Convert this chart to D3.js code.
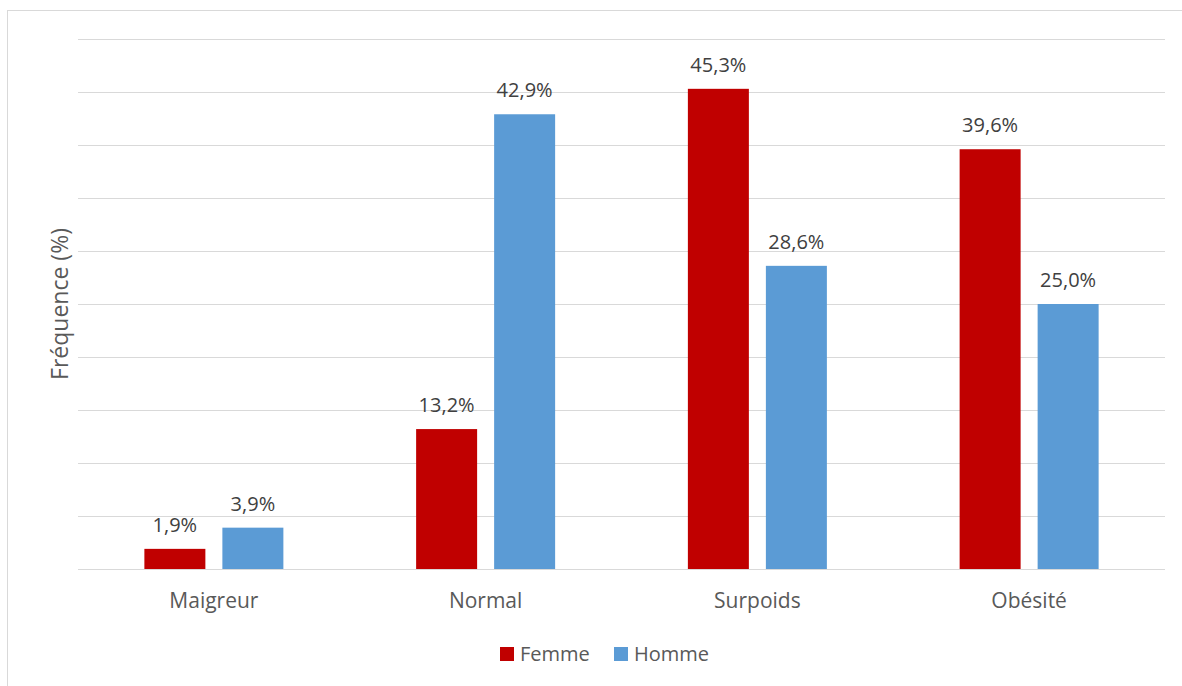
<!DOCTYPE html>
<html>
<head>
<meta charset="utf-8">
<script src="https://cdn.jsdelivr.net/npm/d3@7"></script>
<style>
  html, body { margin: 0; padding: 0; background: #fff; }
  svg { display: block; }
  text { font-family: "Open Sans", "Noto Sans", sans-serif; }
</style>
</head>
<body>
<svg id="chart" width="1182" height="686"></svg>
<script>
// Répartition de l'IMC par sexe
const categories = ["Maigreur", "Normal", "Surpoids", "Obésité"];
const seriesNames = ["Femme", "Homme"];
const femme = [1.9, 13.2, 45.3, 39.6];
const homme = [3.9, 42.9, 28.6, 25.0];
const yTicks = [0, 5, 10, 15, 20, 25, 30, 35, 40, 45, 50];
const colors = ["#C00000", "#5B9BD5"];

const svg = d3.select("#chart");
const fmt = v => v.toFixed(1).replace(".", ",") + "%";

// chart frame
svg.append("rect")
  .attr("x", 7.5).attr("y", 10.5)
  .attr("width", 1190).attr("height", 690)
  .attr("fill", "none").attr("stroke", "#d9d9d9").attr("stroke-width", 1);

const plot = { left: 78, right: 1165, top: 39, bottom: 569 };

const y = d3.scaleLinear().domain([0, 50]).range([plot.bottom, plot.top]);
const x0 = d3.scaleBand().domain(categories).range([plot.left, plot.right]).paddingInner(0).paddingOuter(0);
const groupW = 139;
const x1 = d3.scaleBand().domain(seriesNames).range([0, groupW]).paddingInner(0.218).paddingOuter(0);

// horizontal gridlines (no tick labels)
svg.append("g").selectAll("line").data(yTicks).join("line")
  .attr("x1", plot.left).attr("x2", plot.right)
  .attr("y1", d => Math.round(y(d)) + 0.5).attr("y2", d => Math.round(y(d)) + 0.5)
  .attr("stroke", "#d9d9d9").attr("stroke-width", 1);

const rows = categories.map((c, i) => ({ cat: c, values: [femme[i], homme[i]] }));

const groups = svg.append("g").selectAll("g").data(rows).join("g")
  .attr("transform", d => `translate(${x0(d.cat) + (x0.bandwidth() - groupW) / 2},0)`);

const bars = groups.selectAll("g").data(d => d.values.map((v, k) => ({ name: seriesNames[k], v, k }))).join("g");

bars.append("rect")
  .attr("x", d => x1(d.name))
  .attr("width", x1.bandwidth())
  .attr("y", d => y(d.v))
  .attr("height", d => y(0) - y(d.v))
  .attr("fill", d => colors[d.k]);

bars.append("text")
  .attr("x", d => x1(d.name) + x1.bandwidth() / 2)
  .attr("y", d => y(d.v) - 17)
  .attr("text-anchor", "middle")
  .attr("font-size", 20)
  .attr("fill", "#404040")
  .text(d => fmt(d.v));

// category axis
const xAxis = svg.append("g")
  .attr("transform", `translate(0,${plot.bottom})`)
  .call(d3.axisBottom(x0).tickSize(0).tickPadding(0));
xAxis.select(".domain").remove();
xAxis.selectAll("text")
  .attr("y", 39).attr("dy", 0)
  .attr("font-size", 21)
  .attr("fill", "#595959")
  .style("font-family", "'Open Sans', sans-serif");

// axis title
svg.append("text")
  .attr("transform", `translate(68,${(plot.top + plot.bottom) / 2}) rotate(-90)`)
  .attr("text-anchor", "middle")
  .attr("font-size", 23)
  .attr("fill", "#595959")
  .text("Fréquence (%)");

// legend
const legend = svg.append("g");
const legendItems = [{ name: "Femme", x: 500 }, { name: "Homme", x: 614 }];
legendItems.forEach((it, k) => {
  legend.append("rect").attr("x", it.x).attr("y", 647).attr("width", 14).attr("height", 14).attr("fill", colors[k]);
  legend.append("text").attr("x", it.x + 20).attr("y", 661)
    .attr("font-size", 20).attr("fill", "#595959").text(it.name);
});
</script>
</body>
</html>
